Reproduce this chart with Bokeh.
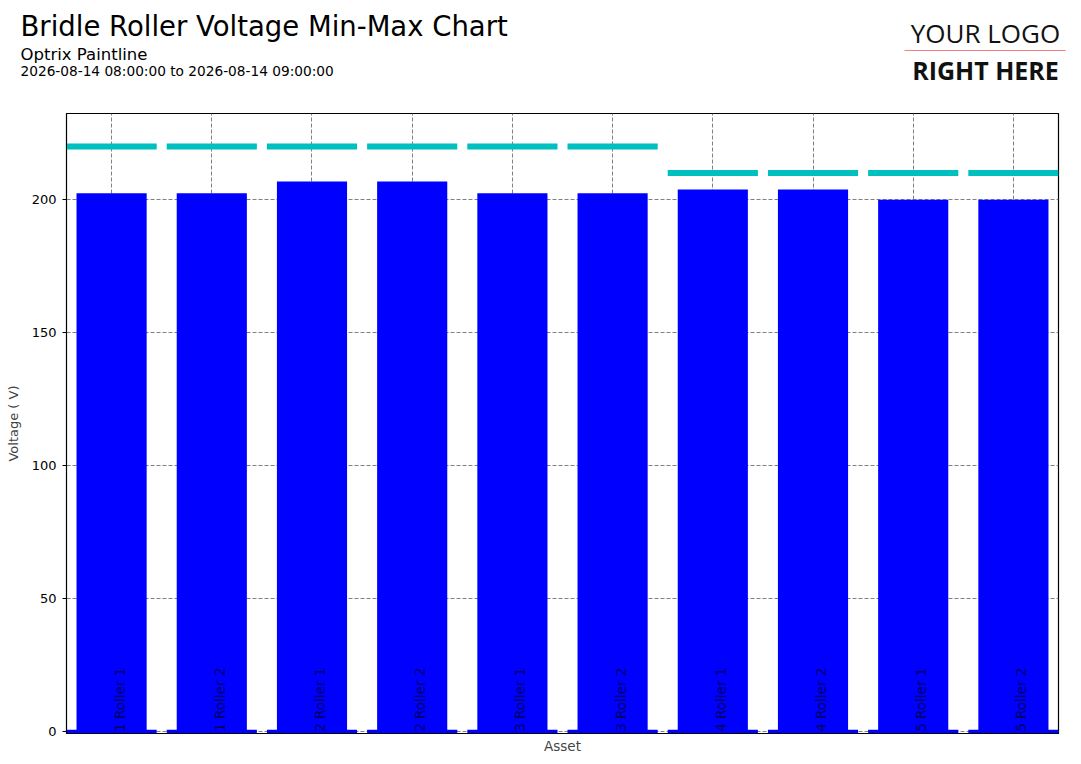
from bokeh.plotting import figure
from bokeh.layouts import column, row
from bokeh.models import Range1d, FixedTicker, ColumnDataSource
from bokeh.embed import file_html
from bokeh.resources import INLINE
from bokeh.core.properties import value
import math

# ---- data ----
assets = ["1 Roller 1", "1 Roller 2", "2 Roller 1", "2 Roller 2", "3 Roller 1",
          "3 Roller 2", "4 Roller 1", "4 Roller 2", "5 Roller 1", "5 Roller 2"]
max_volts = [202.4, 202.4, 206.8, 206.8, 202.4, 202.4, 203.8, 203.8, 200.0, 200.0]
min_volts = [0.8, 0.8, 0.8, 0.8, 0.8, 0.8, 0.8, 0.8, 0.8, 0.8]
limit_volts = [220, 220, 220, 220, 220, 220, 210, 210, 210, 210]
y_ticks = [0, 50, 100, 150, 200]

title_text = "Bridle Roller Voltage Min-Max Chart"
subtitle_text = "Optrix Paintline"
period_text = "2026-08-14 08:00:00 to 2026-08-14 09:00:00"
logo_top = "YOUR LOGO"
logo_bottom = "RIGHT HERE"

W = 1081
HEAD_H = 108

# ---- header figure (page-pixel coordinates, y downwards) ----
h = figure(width=W, height=HEAD_H, output_backend="svg", toolbar_location=None,
           x_range=Range1d(0, W), y_range=Range1d(HEAD_H, 0),
           min_border=0, min_border_left=0, min_border_right=0,
           min_border_top=0, min_border_bottom=0)
h.axis.visible = False
h.grid.visible = False
h.outline_line_color = None
h.background_fill_color = "white"
h.border_fill_color = "white"


def htext(text, x, y, size, font="DejaVu Sans", style="normal", align="left", color="black"):
    h.text(x=[x], y=[y], text=[text], text_font=value(font), text_font_size=size,
           text_font_style=style, text_align=align, text_baseline="alphabetic",
           text_color=color)


htext(title_text, 20, 25.5, "27.5px")
htext(subtitle_text, 20, 53.5, "16.5px")
htext(period_text, 20, 70, "13.7px")
htext(logo_top, 985, 32.5, "26px", font="Open Sans", align="center", color="#111111")
h.segment(x0=[904], y0=[50], x1=[1065], y1=[50], line_color="#f08080", line_width=1)
htext(logo_bottom, 985, 69, "25px", font="Open Sans", style="bold",
      align="center", color="#111111")

# ---- main chart ----
pos = list(range(len(assets)))
y_lo, y_hi = -0.64, 232.4

src = ColumnDataSource(dict(x=pos, asset=assets, vmax=max_volts, vmin=min_volts,
                            lim=limit_volts, base=[y_lo] * len(pos)))

p = figure(width=W, height=764 - HEAD_H, output_backend="svg", toolbar_location=None,
           x_range=Range1d(-0.45, len(pos) - 0.55), y_range=Range1d(y_lo, y_hi),
           min_border_left=66, min_border_right=23, min_border_top=113 - HEAD_H,
           min_border_bottom=31)
p.background_fill_color = "white"
p.border_fill_color = "white"
p.outline_line_color = "black"
p.outline_line_width = 1.2

p.xaxis.ticker = FixedTicker(ticks=[])
p.xaxis.axis_label = "Asset"
p.xaxis.axis_label_text_font = "DejaVu Sans"
p.xaxis.axis_label_text_font_style = "normal"
p.xaxis.axis_label_text_font_size = "13.5px"
p.xaxis.axis_label_standoff = 4
p.xaxis.major_label_standoff = 0
p.xaxis.major_tick_out = 0
p.xaxis.major_tick_in = 0
p.xaxis.minor_tick_line_color = None
p.xaxis.axis_line_color = "black"
p.xgrid.ticker = FixedTicker(ticks=pos)
p.xgrid.grid_line_color = "#808080"
p.xgrid.grid_line_dash = "4 2"
p.xgrid.grid_line_width = 1

p.yaxis.ticker = FixedTicker(ticks=y_ticks)
p.yaxis.axis_label = "Voltage ( V)"
p.yaxis.axis_label_text_font = "DejaVu Sans"
p.yaxis.axis_label_text_font_style = "normal"
p.yaxis.axis_label_text_font_size = "13px"
p.yaxis.axis_label_standoff = 8
p.yaxis.major_label_text_font = "DejaVu Sans"
p.yaxis.major_label_text_font_size = "13px"
p.yaxis.major_label_text_color = "black"
p.yaxis.major_label_standoff = 6
p.yaxis.major_tick_out = 4
p.yaxis.major_tick_in = 0
p.yaxis.minor_tick_line_color = None
p.yaxis.axis_line_color = "black"
p.yaxis.major_tick_line_color = "black"
p.ygrid.ticker = FixedTicker(ticks=y_ticks)
p.ygrid.grid_line_color = "#808080"
p.ygrid.grid_line_dash = "4 2"

# min bars (thin, wide)
p.vbar(x="x", width=0.9, bottom="base", top="vmin", source=src,
       fill_color="#0000ff", line_color=None)
# max bars
p.vbar(x="x", width=0.7, bottom="base", top="vmax", source=src,
       fill_color="#0000ff", line_color=None)
# limit markers
p.rect(x="x", y="lim", width=0.9, height=6, height_units="screen", source=src,
       fill_color="#00bfbf", line_color=None)
# asset labels
p.text(x="x", y=0, text="asset", source=src, angle=math.pi / 2,
       text_align="left", text_baseline="top", text_font=value("DejaVu Sans"),
       text_font_size="13.5px", text_color="black", text_alpha=0.65)

layout = column(row(h), p, spacing=0)
open("out.html", "w").write(file_html(layout, INLINE))
